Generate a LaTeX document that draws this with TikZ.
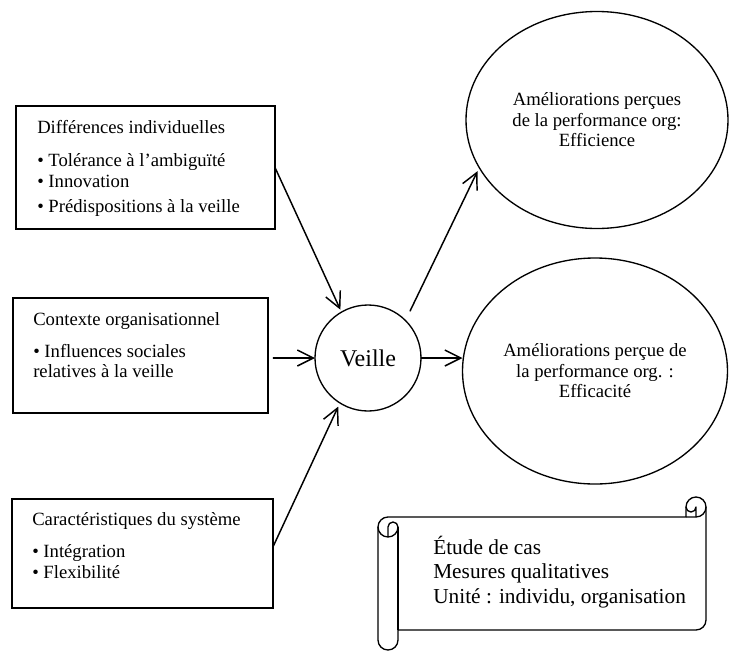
\documentclass[tikz,border=0pt]{standalone}
\usepackage{fontspec}
\setmainfont{Liberation Serif}
\usetikzlibrary{arrows.meta,shapes.geometric}

\begin{document}
\begin{tikzpicture}[x=0.75pt,y=-0.75pt,
  boxframe/.style={draw, rectangle, line width=0.9pt, inner sep=0pt, outer sep=0pt},
  boxline/.style={anchor=base west, inner sep=0pt, font=\fontsize{14}{16}\selectfont},
  arr/.style={line width=1.1pt, line cap=round,
    -{Straight Barb[length=12pt,width=12pt,line width=1.1pt]}},
  outcome/.style={draw, ellipse, line width=1pt, inner sep=0pt, outer sep=0pt,
    align=center, font=\fontsize{14}{15.4}\selectfont},
  scrollline/.style={line width=1pt, line join=round}
]
\useasboundingbox (0,0) rectangle (735,650);

% ---- input boxes ----
\node[boxframe, minimum width=194.25pt, minimum height=92.25pt] (b1) at (145.5,167.5) {};
\node[boxline] (b1t) at (37,133) {Différences individuelles};
\node[boxline] (b1a) at (37,166) {• Tolérance à l’ambiguïté};
\node[boxline] (b1b) at (37,187) {• Innovation};
\node[boxline] (b1c) at (37,212) {• Prédispositions à la veille};

\node[boxframe, minimum width=191.25pt, minimum height=86.25pt] (b2) at (140.5,355.5) {};
\node[boxline] (b2t) at (33,325) {Contexte organisationnel};
\node[boxline] (b2a) at (33,357) {• Influences sociales};
\node[boxline] (b2b) at (33,377) {relatives à la veille};

\node[boxframe, minimum width=195.75pt, minimum height=81.75pt] (b3) at (142.5,553.5) {};
\node[boxline] (b3t) at (32,525) {Caractéristiques du système};
\node[boxline] (b3a) at (32,557) {• Intégration};
\node[boxline] (b3b) at (32,578) {• Flexibilité};

% ---- central concept ----
\node[draw, circle, line width=1pt, minimum size=79.5pt, inner sep=0pt, outer sep=0pt,
  font=\fontsize{18}{21}\selectfont] (v) at (368,358) {Veille};

% ---- outcomes ----
\node[outcome, minimum width=196.5pt, minimum height=162.75pt] (e1) at (597,120)
  {Améliorations perçues\\de la performance org:\\Efficience};
\node[outcome, minimum width=198.75pt, minimum height=169.5pt] (e2) at (595,371)
  {Améliorations perçue de\\la performance org. :\\Efficacité};

% ---- connectors ----
\draw[arr, shorten >=2pt] (b1.east) -- (v.120);
\draw[arr, shorten <=4pt] (b2.east |- v.west) -- (v.west);
\draw[arr, shorten >=3pt] ([yshift=5pt]b3.east) -- (v.238);
\draw[arr, shorten <=8pt, shorten >=3pt] (v.45) -- (e1.202);
\draw[arr] (v.east) -- (v.east -| e2.west);

% ---- scroll with study design ----
\begin{scope}[shift={(378,497)}]
  % outline: left roll, body, top-right curl
  \draw[scrollline] (0,30) arc[start angle=180, delta angle=90, radius=10]
    -- (308,20) -- (308,10) arc[start angle=180, delta angle=180, radius=10]
    -- (328,123) arc[start angle=0, delta angle=90, radius=10]
    -- (20,133) -- (20,143) arc[start angle=0, delta angle=180, radius=10]
    -- cycle;
  % inner turns of the top-right curl
  \draw[scrollline] (308,20) -- (318,20) arc[start angle=90, delta angle=-90, radius=10];
  \draw[scrollline] (318,20) -- (318,10) arc[start angle=0, delta angle=180, radius=5];
  % inner turn of the left roll
  \draw[scrollline] (10,40) -- (10,30) arc[start angle=180, delta angle=180, radius=5]
    arc[start angle=0, delta angle=180, radius=10];
  \draw[scrollline] (20,30) -- (20,133);
\end{scope}
\node[anchor=west, align=left, inner sep=0pt, font=\fontsize{16}{18.4}\selectfont] (sc)
  at (433,572) {Étude de cas\\Mesures qualitatives\\Unité : individu, organisation};
\end{tikzpicture}
\end{document}
